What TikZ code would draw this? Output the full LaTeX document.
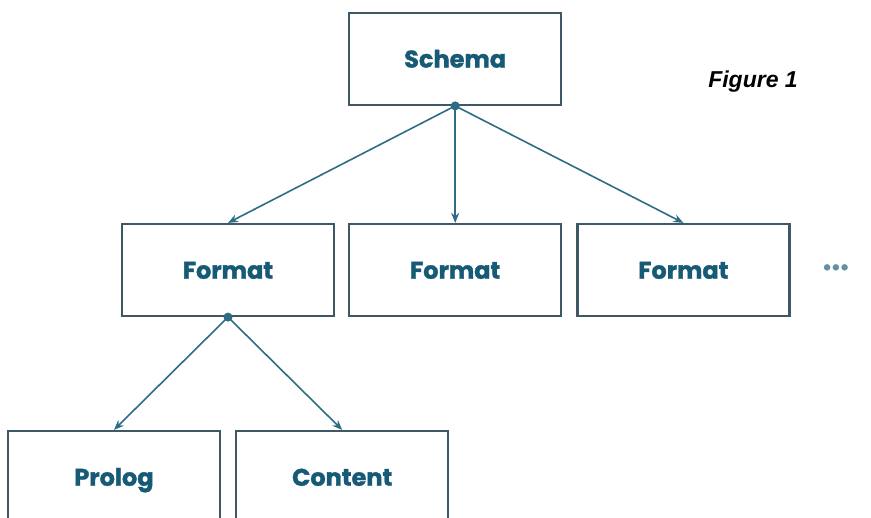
\documentclass[tikz,border=0pt]{standalone}
\usepackage{fontspec}
\usepackage{tikz}
\usetikzlibrary{arrows.meta, positioning}
\newfontfamily\boxfont{Poppins}[BoldFeatures={FakeBold=1.5}]
\newfontfamily\capfont{Liberation Sans}
\definecolor{boxline}{HTML}{3E5866}
\definecolor{linkcol}{HTML}{2E6C86}
\definecolor{boxtext}{HTML}{165A75}
\tikzset{
    block/.style = {rectangle, draw=boxline, line width=2.2pt, minimum width=212pt, minimum height=92pt, text height=20pt, text depth=2.5pt, align=center, text=boxtext, font=\boxfont\bfseries\fontsize{24}{26}\selectfont},
    link/.style = {draw=linkcol, line width=1.6pt, -{Stealth[length=10pt, width=8pt]}},
    knot/.style = {circle, fill=linkcol, inner sep=0pt, minimum size=9pt}
}
\begin{document}
\begin{tikzpicture}[x=1pt, y=-1pt]
\useasboundingbox (0,0) rectangle (871,518);

% levels
\node (format1) [block] at (228,270) {Format};
\node (format2) [block, right=13pt of format1] {Format};
\node (format3) [block, right=14pt of format2] {Format};
\node (schema) [block, above=117pt of format2] {Schema};
\node (prolog) [block] at (114,477) {Prolog};
\node (content) [block, right=14pt of prolog] {Content};

\node (more) [text=linkcol!75, font=\boxfont\fontsize{26}{26}\selectfont, inner sep=0pt] at (836,271) {\textbullet\hspace{-2pt}\textbullet\hspace{-2pt}\textbullet};
\node (fig) [font=\capfont\bfseries\itshape\fontsize{23}{26}\selectfont] at (753,82) {Figure 1};

% branch points
\node (sdot) [knot] at (schema.south) {};
\node (fdot) [knot] at (format1.south) {};

\draw [link] (sdot.center) -- (format1.north);
\draw [link] (sdot.center) -- (format2.north);
\draw [link] (sdot.center) -- (format3.north);
\draw [link] (fdot.center) -- (prolog.north);
\draw [link] (fdot.center) -- (content.north);
\end{tikzpicture}
\end{document}
